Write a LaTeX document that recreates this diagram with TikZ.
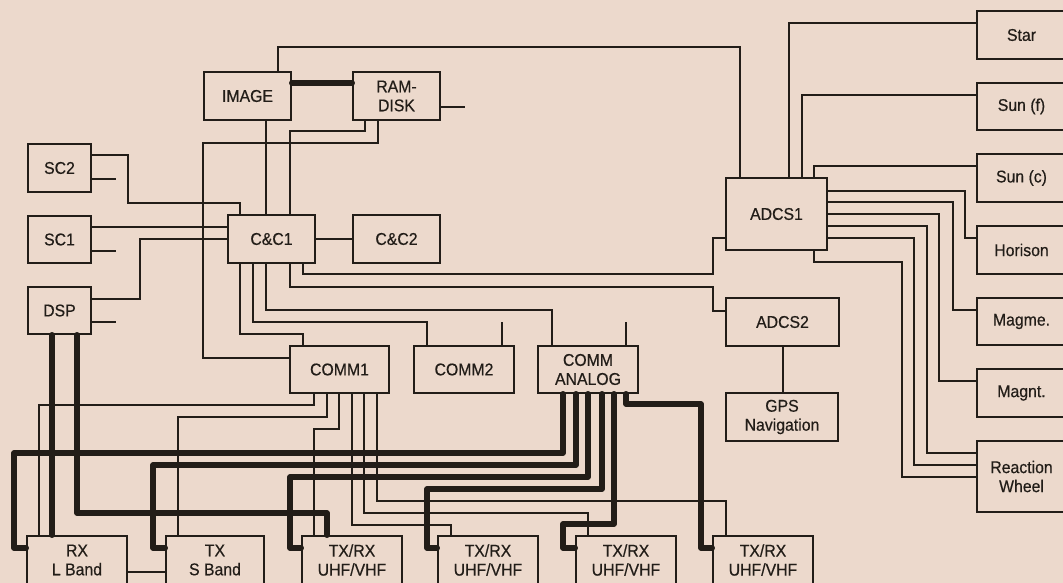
\documentclass[tikz,border=0pt]{standalone}
\usepackage{fontspec}
\newfontfamily\labelfont{Liberation Sans}[FakeStretch=0.93,FakeBold=0.5]
\definecolor{bg}{RGB}{236,217,204}
\definecolor{ink}{RGB}{34,29,24}
\begin{document}
\begin{tikzpicture}[x=1pt,y=-1pt,
 box/.style={draw=ink, line width=1.6pt, inner sep=0pt, align=center, text=ink,
   font=\labelfont\fontsize{17}{19}\selectfont},
 wire/.style={draw=ink, line width=1.5pt},
 bus/.style={draw=ink, line width=5.5pt, line cap=round, line join=round}]
\useasboundingbox (0,0) rectangle (1063,583);
\fill[bg] (0,0) rectangle (1063,583);
\clip (0,0) rectangle (1063,583);

% boxes
\node[box, minimum width=87pt, minimum height=48pt] (image) at (247.5,96) {IMAGE};
\node[box, minimum width=87pt, minimum height=48pt] (ramdisk) at (396.5,96) {RAM-\\DISK};
\node[box, minimum width=63pt, minimum height=48pt] (sc2) at (59.5,168) {SC2};
\node[box, minimum width=63pt, minimum height=47pt] (sc1) at (59.5,239.5) {SC1};
\node[box, minimum width=63pt, minimum height=47pt] (dsp) at (59.5,310.5) {DSP};
\node[box, minimum width=87pt, minimum height=48pt] (cc1) at (271.5,239) {C\&C1};
\node[box, minimum width=87pt, minimum height=48pt] (cc2) at (396.5,239) {C\&C2};
\node[box, minimum width=99pt, minimum height=47pt] (comm1) at (339.5,369.5) {COMM1};
\node[box, minimum width=100pt, minimum height=47pt] (comm2) at (464,369.5) {COMM2};
\node[box, minimum width=100pt, minimum height=47pt] (comma) at (588,369.5) {COMM\\ANALOG};
\node[box, minimum width=101pt, minimum height=72pt] (adcs1) at (776.5,214) {ADCS1};
\node[box, minimum width=113pt, minimum height=48pt] (adcs2) at (782.5,322) {ADCS2};
\node[box, minimum width=112pt, minimum height=48pt] (gps) at (782,417) {GPS\\Navigation};
\node[box, minimum width=89pt, minimum height=48pt] (star) at (1021.5,35) {Star};
\node[box, minimum width=89pt, minimum height=47pt] (sunf) at (1021.5,106.5) {Sun (f)};
\node[box, minimum width=89pt, minimum height=48pt] (sunc) at (1021.5,178) {Sun (c)};
\node[box, minimum width=89pt, minimum height=48pt] (hor) at (1021.5,250) {Horison};
\node[box, minimum width=89pt, minimum height=47pt] (magme) at (1021.5,321.5) {Magme.};
\node[box, minimum width=89pt, minimum height=48pt] (magnt) at (1021.5,393) {Magnt.};
\node[box, minimum width=89pt, minimum height=71pt] (rw) at (1021.5,476.5) {Reaction\\Wheel};
\node[box, minimum width=100pt, minimum height=48pt] (rxl) at (77,560) {RX\\L Band};
\node[box, minimum width=98pt, minimum height=48pt] (txs) at (215,560) {TX\\S Band};
\node[box, minimum width=100pt, minimum height=48pt] (tr1) at (352,560) {TX/RX\\UHF/VHF};
\node[box, minimum width=100pt, minimum height=48pt] (tr2) at (488,560) {TX/RX\\UHF/VHF};
\node[box, minimum width=100pt, minimum height=48pt] (tr3) at (626,560) {TX/RX\\UHF/VHF};
\node[box, minimum width=100pt, minimum height=48pt] (tr4) at (763,560) {TX/RX\\UHF/VHF};

% thin connectors
\draw[wire] (278,0 |- image.north) -- (278,47) -- (740,47) -- (740,0 |- adcs1.north);
\draw[wire] (ramdisk.east |- 0,107) -- (465,107);
\draw[wire] (266,0 |- image.south) -- (266,0 |- cc1.north);
\draw[wire] (365,0 |- ramdisk.south) -- (365,131) -- (290,131) -- (290,0 |- cc1.north);
\draw[wire] (378,0 |- ramdisk.south) -- (378,143) -- (203,143) -- (203,358) -- (comm1.west |- 0,358);
\draw[wire] (sc2.east |- 0,155) -- (128,155) -- (128,203) -- (240,203) -- (240,0 |- cc1.north);
\draw[wire] (sc2.east |- 0,179) -- (116,179);
\draw[wire] (sc1.east |- 0,227) -- (cc1.west |- 0,227);
\draw[wire] (sc1.east |- 0,251) -- (116,251);
\draw[wire] (dsp.east |- 0,299) -- (140,299) -- (140,239) -- (cc1.west);
\draw[wire] (dsp.east |- 0,322) -- (116,322);
\draw[wire] (cc1.east) -- (cc2.west);
\draw[wire] (303,0 |- cc1.south) -- (303,274) -- (713,274) -- (713,238) -- (adcs1.west |- 0,238);
\draw[wire] (290,0 |- cc1.south) -- (290,287) -- (713,287) -- (713,311) -- (adcs2.west |- 0,311);
\draw[wire] (266,0 |- cc1.south) -- (266,310) -- (552,310) -- (552,0 |- comma.north);
\draw[wire] (253,0 |- cc1.south) -- (253,322) -- (427,322) -- (427,0 |- comm2.north);
\draw[wire] (240,0 |- cc1.south) -- (240,334) -- (303,334) -- (303,0 |- comm1.north);
\draw[wire] (502,0 |- comm2.north) -- (502,322);
\draw[wire] (626,0 |- comma.north) -- (626,322);
\draw[wire] (783,0 |- adcs2.south) -- (783,0 |- gps.north);
\draw[wire] (789,0 |- adcs1.north) -- (789,23) -- (star.west |- 0,23);
\draw[wire] (802,0 |- adcs1.north) -- (802,95) -- (sunf.west |- 0,95);
\draw[wire] (814,0 |- adcs1.north) -- (814,166) -- (sunc.west |- 0,166);
\draw[wire] (adcs1.east |- 0,191) -- (965,191) -- (965,238) -- (hor.west |- 0,238);
\draw[wire] (adcs1.east |- 0,202) -- (953,202) -- (953,310) -- (magme.west |- 0,310);
\draw[wire] (adcs1.east |- 0,214) -- (939,214) -- (939,381) -- (magnt.west |- 0,381);
\draw[wire] (adcs1.east |- 0,226) -- (927,226) -- (927,453) -- (rw.west |- 0,453);
\draw[wire] (adcs1.east |- 0,238) -- (914,238) -- (914,465) -- (rw.west |- 0,465);
\draw[wire] (814,0 |- adcs1.south) -- (814,262) -- (902,262) -- (902,477) -- (rw.west |- 0,477);
\draw[wire] (314,0 |- comm1.south) -- (314,405) -- (39,405) -- (39,0 |- rxl.north);
\draw[wire] (327,0 |- comm1.south) -- (327,417) -- (178,417) -- (178,0 |- txs.north);
\draw[wire] (339,0 |- comm1.south) -- (339,429) -- (314,429) -- (314,0 |- tr1.north);
\draw[wire] (352,0 |- comm1.south) -- (352,525) -- (451,525) -- (451,0 |- tr2.north);
\draw[wire] (364,0 |- comm1.south) -- (364,513) -- (588,513) -- (588,0 |- tr3.north);
\draw[wire] (377,0 |- comm1.south) -- (377,501) -- (726,501) -- (726,0 |- tr4.north);
\draw[wire] (rxl.east |- 0,572) -- (txs.west |- 0,572);

% thick buses
\draw[bus] (image.east |- 0,83) -- (ramdisk.west |- 0,83);
\draw[bus] (52,0 |- dsp.south) -- (52,0 |- rxl.north);
\draw[bus] (77,0 |- dsp.south) -- (77,513) -- (327,513) -- (327,0 |- tr1.north);
\draw[bus] (563,0 |- comma.south) -- (563,453) -- (14,453) -- (14,548) -- (rxl.west |- 0,548);
\draw[bus] (576,0 |- comma.south) -- (576,465) -- (153,465) -- (153,548) -- (txs.west |- 0,548);
\draw[bus] (588,0 |- comma.south) -- (588,477) -- (290,477) -- (290,548) -- (tr1.west |- 0,548);
\draw[bus] (602,0 |- comma.south) -- (602,489) -- (427,489) -- (427,548) -- (tr2.west |- 0,548);
\draw[bus] (614,0 |- comma.south) -- (614,524) -- (563,524) -- (563,548) -- (tr3.west |- 0,548);
\draw[bus] (626,0 |- comma.south) -- (626,404) -- (701,404) -- (701,548) -- (tr4.west |- 0,548);
\end{tikzpicture}
\end{document}
